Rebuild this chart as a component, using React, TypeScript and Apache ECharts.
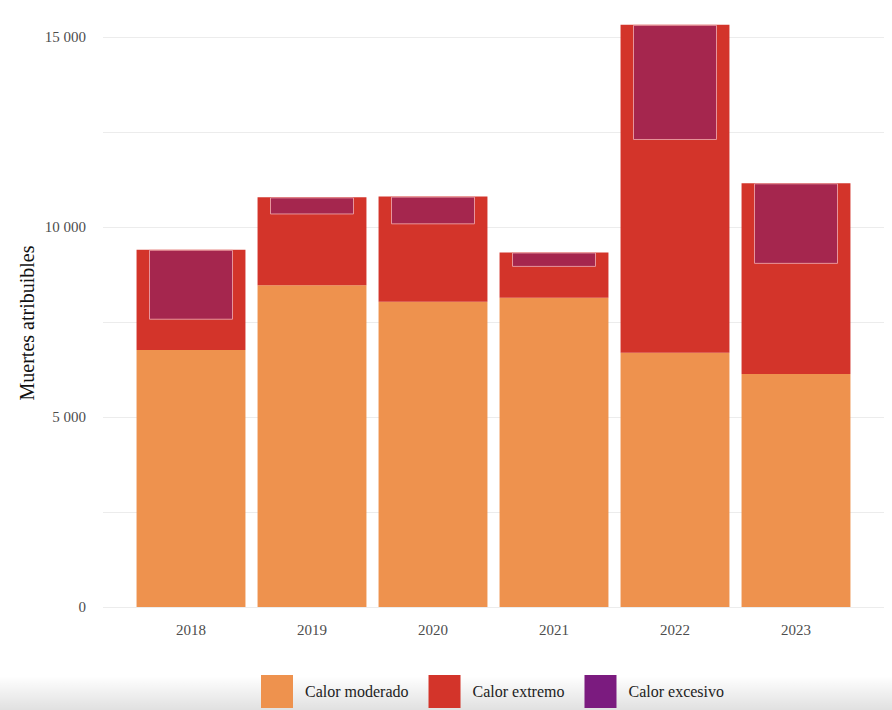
import React, { useEffect, useRef } from "react";
import * as echarts from "echarts";

const years = ["2018", "2019", "2020", "2021", "2022", "2023"];
// red segment (extremo) height, includes the purple "excesivo" overlay
const moderado = [6760, 8470, 8030, 8140, 6690, 6130];
const extremo = [2640, 2310, 2770, 1190, 8630, 5020];
const excesivo = [1840, 450, 730, 380, 3030, 2120];
const yTicks = [0, 5000, 10000, 15000];

const C_MOD = "#EE924E";
const C_EXT = "#D3342A";
const C_EXC = "#7B1B7F";
const C_EXC_OVER = "#A5264E";

const fmt = (v: number) => String(v).replace(/\B(?=(\d{3})+(?!\d))/g, " ");

export default function App() {
  const ref = useRef<HTMLDivElement>(null);
  useEffect(() => {
    document.body.style.margin = "0";
    const chart = echarts.init(ref.current!, null, { renderer: "svg" });
    const base = moderado.map((m, i) => m + extremo[i] - excesivo[i]);
    const serif = "'Liberation Serif', 'Times New Roman', serif";
    chart.setOption({
      animation: false,
      backgroundColor: "#ffffff",
      graphic: [
        {
          type: "rect",
          z: -10,
          shape: { x: 0, y: 676, width: 892, height: 34 },
          style: {
            fill: new echarts.graphic.LinearGradient(0, 0, 0, 1, [
              { offset: 0, color: "rgba(0,0,0,0)" },
              { offset: 1, color: "rgba(0,0,0,0.12)" },
            ]),
          },
        },
        {
          type: "text",
          x: 27,
          y: 323,
          rotation: Math.PI / 2,
          style: {
            text: "Muertes atribuibles",
            fontFamily: serif,
            fontSize: 20,
            fill: "#111",
            align: "center",
            verticalAlign: "middle",
          },
        },
      ],
      grid: [
        { left: 103, right: 8, top: 37, bottom: 103 },
        { left: 130.5, right: 35.5, top: 37, bottom: 103 },
      ],
      xAxis: [
        { type: "category", gridIndex: 0, data: years, show: false },
        {
          type: "category",
          gridIndex: 1,
          data: years,
          axisLine: { show: false },
          axisTick: { show: false },
          axisLabel: { fontFamily: serif, fontSize: 15, color: "#4d4d4d", margin: 15 },
        },
        { type: "category", gridIndex: 1, data: years, show: false },
      ],
      yAxis: [
        {
          type: "value",
          gridIndex: 0,
          min: 0,
          max: 15000,
          interval: 2500,
          axisLine: { show: false },
          axisTick: { show: false },
          splitLine: { lineStyle: { color: "#ececec", width: 1 } },
          axisLabel: {
            fontFamily: serif,
            fontSize: 15,
            color: "#4d4d4d",
            margin: 17,
            formatter: (v: number) => (yTicks.includes(v) ? fmt(v) : ""),
          },
        },
        { type: "value", gridIndex: 1, min: 0, max: 15000, show: false },
      ],
      legend: {
        left: 256,
        top: 670,
        itemWidth: 32,
        itemHeight: 33,
        itemGap: 20,
        icon: "rect",
        textStyle: { fontFamily: serif, fontSize: 16, color: "#222", padding: [0, 0, 0, 7] },
        data: [
          { name: "Calor moderado", itemStyle: { color: C_MOD } },
          { name: "Calor extremo", itemStyle: { color: C_EXT } },
          { name: "Calor excesivo", itemStyle: { color: C_EXC, borderWidth: 0 } },
        ],
      },
      series: [
        {
          name: "Calor moderado",
          type: "bar",
          xAxisIndex: 1,
          yAxisIndex: 1,
          stack: "main",
          barCategoryGap: "10%",
          clip: false,
          itemStyle: { color: C_MOD },
          data: moderado,
        },
        {
          name: "Calor extremo",
          type: "bar",
          xAxisIndex: 1,
          yAxisIndex: 1,
          stack: "main",
          clip: false,
          itemStyle: { color: C_EXT },
          data: extremo,
        },
        {
          name: "base",
          type: "bar",
          xAxisIndex: 2,
          yAxisIndex: 1,
          stack: "over",
          barWidth: 84,
          silent: true,
          clip: false,
          itemStyle: { color: "rgba(0,0,0,0)" },
          data: base,
          z: 3,
        },
        {
          name: "Calor excesivo",
          type: "bar",
          xAxisIndex: 2,
          yAxisIndex: 1,
          stack: "over",
          barWidth: 84,
          clip: false,
          itemStyle: { color: C_EXC_OVER, borderColor: "rgba(235,160,165,0.9)", borderWidth: 1 },
          data: excesivo,
          z: 3,
        },
      ],
    });
    return () => chart.dispose();
  }, []);
  return (
    <div
      ref={ref}
      style={{ position: "absolute", left: 0, top: 0, width: 892, height: 710 }}
    />
  );
}
